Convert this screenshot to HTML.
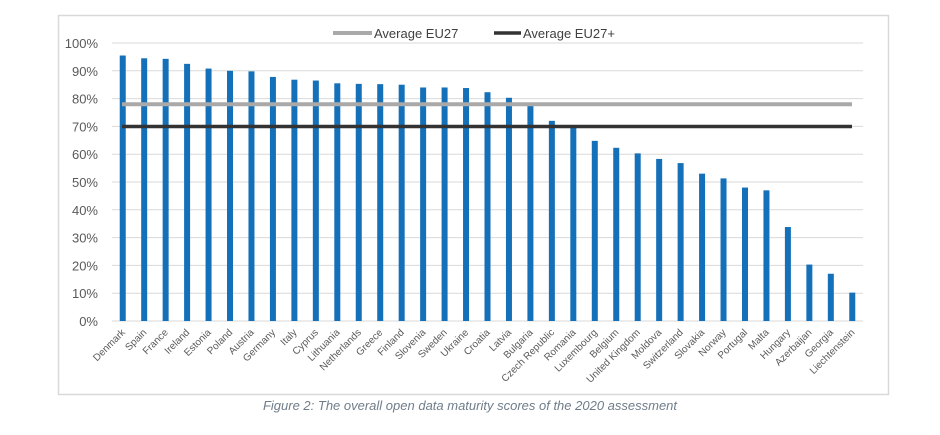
<!DOCTYPE html>
<html><head><meta charset="utf-8"><style>
body{margin:0;background:#fff;width:940px;height:430px;overflow:hidden;font-family:"Liberation Sans",sans-serif}
</style></head><body>
<svg width="940" height="430" xmlns="http://www.w3.org/2000/svg" font-family="Liberation Sans, sans-serif">
<rect x="58.5" y="15.5" width="830" height="379" fill="#fff" stroke="#d9d9d9" stroke-width="1.5"/>
<g id="grid" stroke="#d9d9d9" stroke-width="1"></g>
<g id="ylab" fill="#595959" font-size="13" text-anchor="end"></g>
<g id="bars" fill="#1470b8"></g>
<line x1="122" y1="104.3" x2="852" y2="104.3" stroke="#a9a9a9" stroke-width="4"/>
<line x1="122" y1="126.5" x2="852" y2="126.5" stroke="#333" stroke-width="3.5"/>
<line x1="333" y1="33" x2="372" y2="33" stroke="#a9a9a9" stroke-width="4"/>
<text x="374" y="38" font-size="13" fill="#404040">Average EU27</text>
<line x1="494" y1="33" x2="521" y2="33" stroke="#333" stroke-width="3.5"/>
<text x="523" y="38" font-size="13" fill="#404040">Average EU27+</text>
<g id="xlab" fill="#595959" font-size="10" text-anchor="end"></g>
<text x="470" y="410" font-size="13" font-style="italic" fill="#6f7d8a" text-anchor="middle">Figure 2: The overall open data maturity scores of the 2020 assessment</text>
</svg>
<script>
var ns="http://www.w3.org/2000/svg";
function el(p,t,a,txt){var e=document.createElementNS(ns,t);for(var k in a)e.setAttribute(k,a[k]);if(txt)e.textContent=txt;document.getElementById(p).appendChild(e);}
var y0=321,pp=2.78;
for(var i=0;i<=10;i++){var y=y0-i*10*pp;el("grid","line",{x1:112,x2:863,y1:y,y2:y});el("ylab","text",{x:98,y:y+5},i*10+"%");}
var d=[["Denmark",95.5],["Spain",94.5],["France",94.3],["Ireland",92.5],["Estonia",90.8],["Poland",90],["Austria",89.8],["Germany",87.8],["Italy",86.8],["Cyprus",86.5],["Lithuania",85.5],["Netherlands",85.3],["Greece",85.2],["Finland",85],["Slovenia",84],["Sweden",84],["Ukraine",83.8],["Croatia",82.3],["Latvia",80.3],["Bulgaria",77.5],["Czech Republic",72],["Romania",69.5],["Luxembourg",64.8],["Belgium",62.3],["United Kingdom",60.3],["Moldova",58.3],["Switzerland",56.8],["Slovakia",53],["Norway",51.3],["Portugal",48],["Malta",47],["Hungary",33.8],["Azerbaijan",20.3],["Georgia",17],["Liechtenstein",10.2]];
var w=(863-112)/35;
d.forEach(function(r,i){var cx=112+w*(i+0.5);var h=r[1]*pp;el("bars","rect",{x:cx-3,y:y0-h,width:6,height:h});
el("xlab","text",{x:cx+3,y:333,transform:"rotate(-45 "+(cx+3)+" 333)"},r[0]);});
</script>
</body></html>
